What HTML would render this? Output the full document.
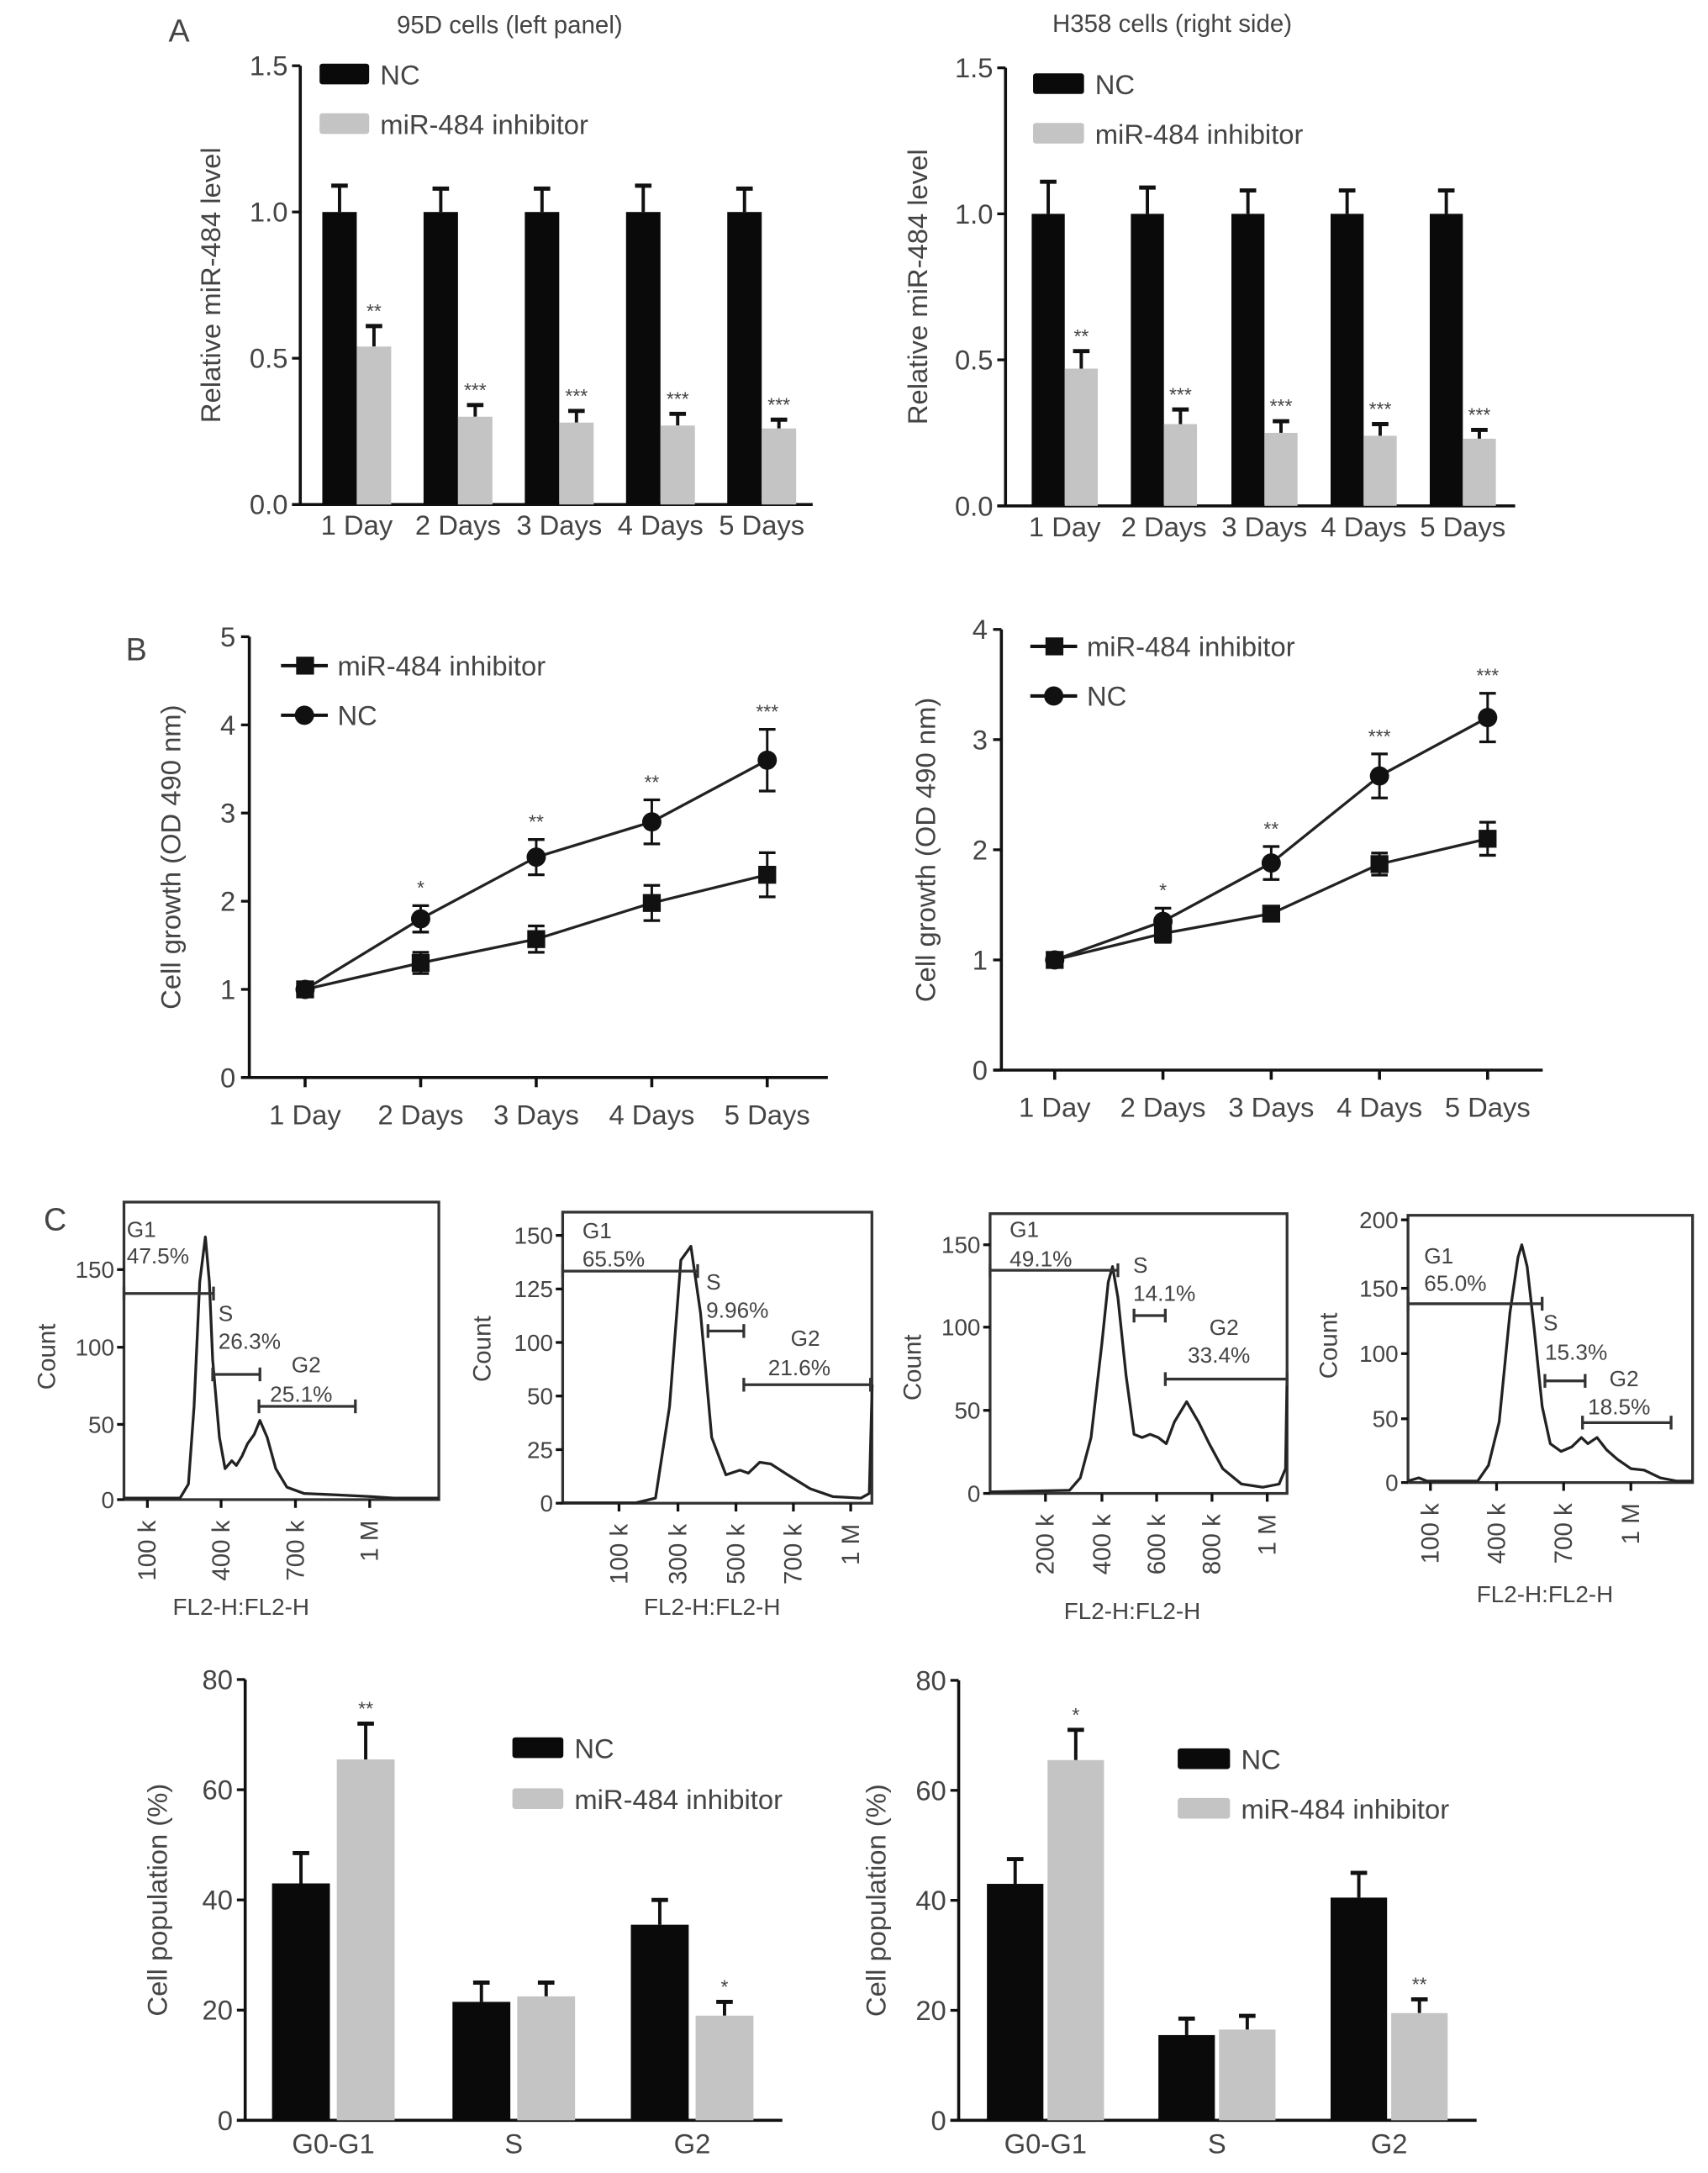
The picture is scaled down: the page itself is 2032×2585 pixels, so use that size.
<!DOCTYPE html>
<html><head><meta charset="utf-8"><style>
html,body{margin:0;padding:0;background:#fff}
svg{display:block;font-family:"Liberation Sans",Arial,sans-serif}
text{fill:#444}
</style></head><body>
<svg id="fig" width="2032" height="2585" viewBox="0 0 1240 1577" xmlns="http://www.w3.org/2000/svg">
<g id="root"></g>
</svg>
<script>
// ---- Panel A data ----
const aCats = ["1 Day","2 Days","3 Days","4 Days","5 Days"];
const aL_nc = [1,1,1,1,1];
const aL_nc_err = [0.09,0.08,0.08,0.09,0.08];
const aL_inh = [0.54,0.30,0.28,0.27,0.26];
const aL_inh_err = [0.07,0.04,0.04,0.04,0.03];
const aL_stars = ["**","***","***","***","***"];
const aR_nc = [1,1,1,1,1];
const aR_nc_err = [0.11,0.09,0.08,0.08,0.08];
const aR_inh = [0.47,0.28,0.25,0.24,0.23];
const aR_inh_err = [0.06,0.05,0.04,0.04,0.03];
const aR_stars = ["**","***","***","***","***"];
const aTicks = [0,0.5,1.0,1.5];
// ---- Panel B data ----
const bL_nc = [1,1.8,2.5,2.9,3.6];
const bL_nc_err = [0.05,0.15,0.2,0.25,0.35];
const bL_inh = [1,1.3,1.57,1.98,2.3];
const bL_inh_err = [0.05,0.12,0.15,0.2,0.25];
const bL_stars = ["","*","**","**","***"];
const bL_ticks = [0,1,2,3,4,5];
const bR_nc = [1,1.35,1.88,2.67,3.2];
const bR_nc_err = [0.04,0.12,0.15,0.2,0.22];
const bR_inh = [1,1.24,1.42,1.87,2.1];
const bR_inh_err = [0.04,0.08,0.05,0.1,0.15];
const bR_stars = ["","*","**","***","***"];
const bR_ticks = [0,1,2,3,4];
// ---- Panel C bar data ----
const cCats = ["G0-G1","S","G2"];
const cL_nc = [43,21.5,35.5];
const cL_nc_err = [5.5,3.5,4.5];
const cL_inh = [65.5,22.5,19];
const cL_inh_err = [6.5,2.5,2.5];
const cL_stars = ["**","","*"];
const cR_nc = [43,15.5,40.5];
const cR_nc_err = [4.5,3,4.5];
const cR_inh = [65.5,16.5,19.5];
const cR_inh_err = [5.5,2.5,2.5];
const cR_stars = ["*","","**"];
const cTicks = [0,20,40,60,80];

const NS="http://www.w3.org/2000/svg";
const root=document.getElementById('root');
function mk(tag,attrs,parent,txt){const e=document.createElementNS(NS,tag);for(const k in attrs)e.setAttribute(k,attrs[k]);if(txt!==undefined)e.textContent=txt;(parent||root).appendChild(e);return e;}
function grp(name){const g=mk('g',{});return g;}
function label(g,x,y,s,size,anchor,name,rot){const t=mk('text',{x:x,y:y,'font-size':size,'text-anchor':anchor||'middle'},g,s);if(rot)t.setAttribute('transform',`rotate(${rot} ${x} ${y})`);return t;}
function ln(g,x1,y1,x2,y2,w,c){return mk('line',{x1,y1,x2,y2,stroke:c||'#111','stroke-width':w||2},g);}

function barChart(o){
  const g=grp(o.name);
  const y=v=>o.y0-(v-o.vmin)*(o.y0-o.y1)/(o.vmax-o.vmin);
  ln(g,o.ax,y(o.vmax),o.ax,o.y0,2.2);
  ln(g,o.ax-6,o.y0,o.axEnd,o.y0,2.2);
  o.ticks.forEach(t=>{ln(g,o.ax-6,y(t),o.ax,y(t),2);
    label(g,o.ax-9,y(t)+7,o.tickFmt(t),20,'end','y-tick-label');});
  o.cats.forEach((c,i)=>{
    const cx=o.cx[i];
    [[o.nc,o.ncErr,'#0a0a0a',cx-o.gap/2-o.bw,'nc'],[o.inh,o.inhErr,'#c4c4c4',cx+o.gap/2,'inhibitor']].forEach(([vals,errs,col,x,nm])=>{
      const v=vals[i],e=errs[i];
      ln(g,x+o.bw/2,y(v),x+o.bw/2,y(v+e),2.4);
      ln(g,x+o.bw/2-6,y(v+e),x+o.bw/2+6,y(v+e),3);
      const r=mk('rect',{x:x,y:y(v),width:o.bw,height:o.y0-y(v),fill:col},g);
      
      
    });
    if(o.stars[i])label(g,cx+o.gap/2+o.bw/2,y(o.inh[i]+o.inhErr[i])-6,o.stars[i],14,'middle','significance-stars');
    label(g,o.lx?o.lx[i]:cx,o.y0+o.xlOff,c,20,'middle','x-tick-label');
  });
  const lg=grp('legend');g.appendChild(lg);
  const b1=mk('rect',{x:o.leg[0],y:o.leg[1],width:o.leg[3],height:15,fill:'#0a0a0a',rx:2},lg);
  
  label(lg,o.leg[0]+o.leg[3]+8,o.leg[1]+15,'NC',20,'start','legend-entry-nc');
  const b2=mk('rect',{x:o.leg[0],y:o.leg[1]+o.leg[2],width:o.leg[3],height:15,fill:'#c4c4c4',rx:2},lg);
  
  label(lg,o.leg[0]+o.leg[3]+8,o.leg[1]+o.leg[2]+15,'miR-484 inhibitor',20,'start','legend-entry-inhibitor');
  label(g,o.ytx,(o.y0+y(o.vmax))/2,o.ytitle,20,'middle','y-axis-title',-90);
}

function lineChart(o){
  const g=grp(o.name);
  const y=v=>o.y0-v*(o.y0-o.y1)/o.vmax;
  ln(g,o.ax,y(o.vmax),o.ax,o.y0,2.2);
  ln(g,o.ax-6,o.y0,o.axEnd,o.y0,2.2);
  o.ticks.forEach(t=>{ln(g,o.ax-6,y(t),o.ax,y(t),2);label(g,o.ax-10,y(t)+7,String(t),20,'end','y-tick-label');});
  o.cx.forEach((x,i)=>{ln(g,x,o.y0,x,o.y0+7,2.2);label(g,x,o.y0+34,aCats[i],20,'middle','x-tick-label');});
  [[o.inh,o.inhErr,'sq','inhibitor'],[o.nc,o.ncErr,'ci','nc']].forEach(([vals,errs,m,nm])=>{
    const pts=vals.map((v,i)=>o.cx[i]+','+y(v)).join(' ');
    const p=mk('polyline',{points:pts,fill:'none',stroke:'#222','stroke-width':2},g);
    
    vals.forEach((v,i)=>{const x=o.cx[i],e=errs[i];
      ln(g,x,y(v-e),x,y(v+e),1.8);ln(g,x-6,y(v+e),x+6,y(v+e),2);ln(g,x-6,y(v-e),x+6,y(v-e),2);
      const pt=m==='sq'?mk('rect',{x:x-6.5,y:y(v)-6.5,width:13,height:13,fill:'#111'},g):mk('circle',{cx:x,cy:y(v),r:7,fill:'#111'},g);
      
    });
  });
  o.stars.forEach((s,i)=>{if(s)label(g,o.cx[i],y(o.nc[i]+o.ncErr[i])-8,s,14,'middle','significance-stars');});
  const lg=grp('legend');g.appendChild(lg);
  ln(lg,o.leg[0],o.leg[1],o.leg[0]+34,o.leg[1],2.5);
  const s1=mk('rect',{x:o.leg[0]+11,y:o.leg[1]-6.5,width:13,height:13,fill:'#111'},lg);
  
  label(lg,o.leg[0]+41,o.leg[1]+7,'miR-484 inhibitor',20,'start','legend-entry-inhibitor');
  ln(lg,o.leg[0],o.leg[1]+o.leg[2],o.leg[0]+34,o.leg[1]+o.leg[2],2.5);
  const s2=mk('circle',{cx:o.leg[0]+17,cy:o.leg[1]+o.leg[2],r:7,fill:'#111'},lg);
  
  label(lg,o.leg[0]+41,o.leg[1]+o.leg[2]+7,'NC',20,'start','legend-entry-nc');
  label(g,o.ytx,(o.y0+y(o.vmax))/2,'Cell growth (OD 490 nm)',20,'middle','y-axis-title',-90);
}

const pl=grp('panel-labels');
label(pl,130,30,'A',23,'middle','panel-label-a');
label(pl,99,479,'B',23,'middle','panel-label-b');
label(pl,40,893,'C',23,'middle','panel-label-c');
label(pl,370,24,'95D cells (left panel)',18,'middle','title-95d');
label(pl,851,23,'H358 cells (right side)',18,'middle','title-h358');

barChart({name:'chart-a-95d',ax:218,axEnd:590,y0:366,y1:47.5,vmin:0,vmax:1.5,ticks:aTicks,tickFmt:t=>t.toFixed(1),
  cats:aCats,cx:[259,332.5,406,479.5,553],bw:25,gap:0,xlOff:22,nc:aL_nc,ncErr:aL_nc_err,inh:aL_inh,inhErr:aL_inh_err,stars:aL_stars,
  leg:[232,46,36,36],ytx:160,ytitle:'Relative miR-484 level'});
barChart({name:'chart-a-h358',ax:730,axEnd:1100,y0:367,y1:49,vmin:0,vmax:1.5,ticks:aTicks,tickFmt:t=>t.toFixed(1),
  cats:aCats,cx:[773,845,918,990,1062],bw:24,gap:0,xlOff:22,nc:aR_nc,ncErr:aR_nc_err,inh:aR_inh,inhErr:aR_inh_err,stars:aR_stars,
  leg:[750,53,36,37],ytx:673,ytitle:'Relative miR-484 level'});

lineChart({name:'chart-b-95d',ax:181,axEnd:601,y0:782,y1:462,vmax:5,ticks:bL_ticks,cx:[221.5,305.4,389.3,473.2,557],
  nc:bL_nc,ncErr:bL_nc_err,inh:bL_inh,inhErr:bL_inh_err,stars:bL_stars,leg:[204,483,36],ytx:131});
lineChart({name:'chart-b-h358',ax:727,axEnd:1120,y0:776.6,y1:456.7,vmax:4,ticks:bR_ticks,cx:[765.7,844.3,922.9,1001.5,1080],
  nc:bR_nc,ncErr:bR_nc_err,inh:bR_inh,inhErr:bR_inh_err,stars:bR_stars,leg:[748,469,36],ytx:679});

barChart({name:'chart-c-95d-population',ax:178,axEnd:568,y0:1539,y1:1219,vmin:0,vmax:80,ticks:cTicks,tickFmt:t=>String(t),
  cats:cCats,cx:[242,373,502.5],bw:42,gap:5,xlOff:24,nc:cL_nc,ncErr:cL_nc_err,inh:cL_inh,inhErr:cL_inh_err,stars:cL_stars,
  leg:[372,1261,37,37],ytx:121,ytitle:'Cell population (%)'});
barChart({name:'chart-c-h358-population',ax:696,axEnd:1072,y0:1539,y1:1219.6,vmin:0,vmax:80,ticks:cTicks,tickFmt:t=>String(t),
  cats:cCats,cx:[759,883.5,1008.5],bw:41,gap:3,xlOff:24,nc:cR_nc,ncErr:cR_nc_err,inh:cR_inh,inhErr:cR_inh_err,stars:cR_stars,
  leg:[855,1269,36,38],ytx:643,ytitle:'Cell population (%)'});

// ---- Histograms (flow cytometry); outlines ----
const z7=(p)=>[p[0]/2.448, p[1]/4.431+817.6];
const z8=(p)=>[p[0]/2.565+628.4, p[1]/4.431+817.6];
const histCurve1=[[220,1195],[320,1195],[335,1150],[345,900],[355,500],[365,355],[372,500],[378,750],[390,1000],[400,1100],[412,1075],[420,1090],[430,1060],[440,1020],[452,990],[462,945],[475,1000],[490,1100],[510,1160],[540,1180],[600,1185],[660,1190],[700,1195],[780,1195]].map(z7);
const histCurve2=[[1000,1210],[1130,1210],[1165,1195],[1190,900],[1210,430],[1228,385],[1245,600],[1265,1000],[1290,1120],[1315,1105],[1330,1115],[1350,1080],[1370,1085],[1400,1120],[1440,1165],[1480,1190],[1530,1195],[1545,1180],[1550,830]].map(z7);
const histCurve3=[[232,1175],[380,1170],[400,1130],[420,1000],[440,700],[452,500],[460,450],[470,550],[485,800],[500,990],[515,1000],[530,990],[545,1000],[560,1020],[575,950],[598,885],[620,950],[640,1020],[665,1100],[700,1150],[740,1160],[770,1150],[782,1100],[785,800]].map(z8);
const histCurve4=[[1010,1140],[1030,1130],[1045,1140],[1140,1140],[1160,1090],[1180,950],[1200,600],[1215,420],[1222,380],[1232,450],[1245,650],[1260,900],[1275,1020],[1295,1045],[1315,1030],[1333,1000],[1345,1020],[1362,1000],[1380,1040],[1400,1070],[1425,1100],[1450,1105],[1480,1130],[1510,1140],[1540,1140]].map(z8);
const histCurves=[histCurve1,histCurve2,histCurve3,histCurve4];
const hists=[
 {box:[90,872.4,318.6,1088.4],ticks:[[0,1088.4],[50,1033.8],[100,977.8],[150,921.4]],xt:[[107,'100 k'],[160.5,'400 k'],[214.5,'700 k'],[268.4,'1 M']],
  g1:[90,155,938.8],s:[154.4,188.7,997.5],g2:[188,258,1020.7],
  lab:[[92,897.7,'G1'],[92,917,'47.5%'],[158.5,958.7,'S'],[158.5,979,'26.3%'],[211.6,996,'G2'],[196,1017.3,'25.1%']],yt:[33,984.6],xl:[175,1172]},
 {box:[408.5,879.7,633,1091],ticks:[[0,1091],[25,1052.1],[50,1013.2],[100,974.3],[125,935.5],[150,896.6]],xt:[[449.4,'100 k'],[492.2,'300 k'],[534.3,'500 k'],[576,'700 k'],[617.6,'1 M']],
  g1:[408.5,506.5,922.5],s:[514,540,966],g2:[540,632,1005],
  lab:[[422.8,898.8,'G1'],[422.8,919.2,'65.5%'],[512.7,936,'S'],[512.7,956.4,'9.96%'],[574,976.7,'G2'],[557.6,998,'21.6%']],yt:[349,979],xl:[517,1172]},
 {box:[718.8,880.8,934.4,1083.9],ticks:[[0,1083.9],[50,1023.6],[100,963.2],[150,903.4]],xt:[[759,'200 k'],[800,'400 k'],[839.7,'600 k'],[879.9,'800 k'],[920,'1 M']],
  g1:[718.8,811.6,921.9],s:[823.3,846,954.8],g2:[846,934.4,1000.9],
  lab:[[733,897.7,'G1'],[733,919.2,'49.1%'],[822.6,923.7,'S'],[822.6,944,'14.1%'],[878,968.8,'G2'],[862.3,989.1,'33.4%']],yt:[661.5,992.5],xl:[822,1175]},
 {box:[1022.2,882,1228.8,1076],ticks:[[0,1076],[50,1029.7],[100,982.4],[150,935],[200,885.3]],xt:[[1038.5,'100 k'],[1086.5,'400 k'],[1135.2,'700 k'],[1184,'1 M']],
  g1:[1022.2,1119.6,946.2],s:[1121.6,1150.8,1002.2],g2:[1148.9,1213.2,1032.5],
  lab:[[1033.9,916.9,'G1'],[1033.9,936.8,'65.0%'],[1120.4,965.4,'S'],[1121.6,986.9,'15.3%'],[1168.4,1006,'G2'],[1152.8,1026.4,'18.5%']],yt:[963.7,976.7],xl:[1121.6,1163]}
];
hists.forEach((h,i)=>{
  const g=grp('histogram-'+(i+1));
  const [x0,y0,x1,y1]=h.box;
  const r=mk('rect',{x:x0,y:y0,width:x1-x0,height:y1-y0,fill:'none',stroke:'#333','stroke-width':2},g);
  
  h.ticks.forEach(([v,yy])=>{ln(g,x0-5,yy,x0,yy,2);label(g,x0-7,yy+6,String(v),17,'end','y-tick-label');});
  h.xt.forEach(([x,s])=>{ln(g,x,y1,x,y1+6,2);label(g,x+6,y1+15,s,18,'end','x-tick-label',-90);});
  const p=mk('polyline',{points:histCurves[i].map(p=>p[0].toFixed(1)+','+p[1].toFixed(1)).join(' '),fill:'none',stroke:'#222','stroke-width':2,'stroke-linejoin':'round'},g);
  
  [h.g1,h.s,h.g2].forEach(([a,b,yy])=>{ln(g,a,yy,b,yy,2,'#333');ln(g,a,yy-5,a,yy+5,2,'#333');ln(g,b,yy-5,b,yy+5,2,'#333');});
  h.lab.forEach(([x,y,s])=>label(g,x,y,s,16,'start','gate-label'));
  label(g,h.yt[0]+7,h.yt[1],'Count',18,'middle','y-axis-title',-90);
  label(g,h.xl[0],h.xl[1],'FL2-H:FL2-H',17,'middle','x-axis-title');
});
</script>
</body></html>
